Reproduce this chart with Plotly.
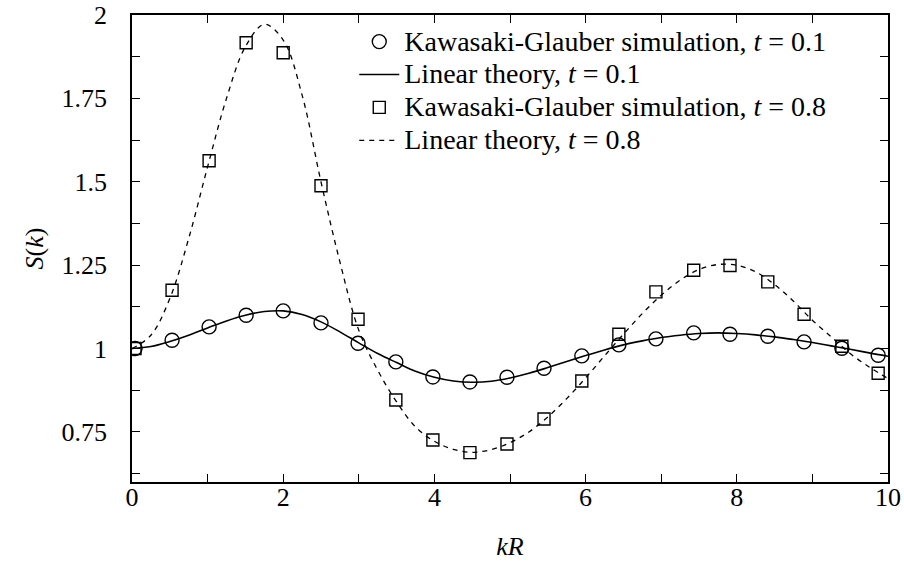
import plotly.graph_objects as go

# Simulation wavenumbers kR
kr_sim = [0.04, 0.53, 1.02, 1.51, 2.00, 2.50, 2.99, 3.49, 3.98, 4.47, 4.96,
          5.45, 5.95, 6.44, 6.93, 7.43, 7.91, 8.41, 8.89, 9.39, 9.87]
s_sim_t01 = [1.000, 1.025, 1.065, 1.100, 1.113, 1.077, 1.016, 0.960, 0.915, 0.900, 0.914,
             0.941, 0.978, 1.011, 1.029, 1.047, 1.043, 1.037, 1.020, 1.001, 0.980]
s_sim_t08 = [1.000, 1.175, 1.563, 1.917, 1.887, 1.488, 1.088, 0.846, 0.726, 0.688, 0.714,
             0.789, 0.903, 1.043, 1.170, 1.235, 1.249, 1.200, 1.103, 1.007, 0.926]

# Linear theory curves sampled along kR
kr_th = [0.0, 0.25, 0.5, 0.75, 1.0, 1.25, 1.5, 1.75, 2.0, 2.25, 2.5, 2.75, 3.0, 3.25,
         3.5, 3.75, 4.0, 4.25, 4.5, 4.75, 5.0, 5.25, 5.5, 5.75, 6.0, 6.25, 6.5, 6.75,
         7.0, 7.25, 7.5, 7.75, 8.0, 8.25, 8.5, 8.75, 9.0, 9.25, 9.5, 9.75, 10.0]
s_th_t01 = [1.000, 1.006, 1.021, 1.040, 1.062, 1.083, 1.100, 1.111, 1.113, 1.102, 1.080,
            1.050, 1.017, 0.985, 0.958, 0.932, 0.914, 0.903, 0.899, 0.902, 0.912, 0.926,
            0.943, 0.961, 0.979, 0.996, 1.011, 1.023, 1.033, 1.040, 1.045, 1.047, 1.045,
            1.041, 1.035, 1.027, 1.018, 1.008, 0.998, 0.987, 0.977]
s_th_t08 = [1.000, 1.040, 1.150, 1.330, 1.545, 1.750, 1.905, 1.972, 1.925, 1.760, 1.500,
            1.260, 1.055, 0.935, 0.840, 0.765, 0.722, 0.698, 0.689, 0.697, 0.718, 0.750,
            0.795, 0.850, 0.912, 0.978, 1.043, 1.105, 1.160, 1.205, 1.237, 1.252, 1.250,
            1.230, 1.192, 1.142, 1.085, 1.035, 0.985, 0.945, 0.910]

x_ticks = list(range(0, 11))
x_labels = ["0", "", "2", "", "4", "", "6", "", "8", "", "10"]
y_ticks = [0.625, 0.75, 0.875, 1.0, 1.125, 1.25, 1.375, 1.5, 1.625, 1.75, 1.875, 2.0]
y_labels = ["", "0.75", "", "1", "", "1.25", "", "1.5", "", "1.75", "", "2"]

FONT = "'Liberation Serif', 'Times New Roman', Times, serif"


def key_label(text):
    # legend entries use a larger face than the legend row pitch
    return '<span style="font-size:28px">' + text + "</span>"


fig = go.Figure()
fig.add_trace(go.Scatter(
    x=kr_sim, y=s_sim_t01, mode="markers",
    name=key_label("Kawasaki-Glauber simulation, <i>t</i> = 0.1"),
    marker=dict(symbol="circle-open", size=14, color="black", line=dict(width=1.4)),
))
fig.add_trace(go.Scatter(
    x=kr_th, y=s_th_t01, mode="lines",
    name=key_label("Linear theory, <i>t</i> = 0.1"),
    line=dict(color="black", width=1.6, shape="spline", smoothing=1.0),
))
fig.add_trace(go.Scatter(
    x=kr_sim, y=s_sim_t08, mode="markers",
    name=key_label("Kawasaki-Glauber simulation, <i>t</i> = 0.8"),
    marker=dict(symbol="square-open", size=12, color="black", line=dict(width=1.4)),
))
fig.add_trace(go.Scatter(
    x=kr_th, y=s_th_t08, mode="lines",
    name=key_label("Linear theory, <i>t</i> = 0.8"),
    line=dict(color="black", width=1.3, dash="5px,5px", shape="spline", smoothing=1.0),
))

axis_common = dict(
    showgrid=False, zeroline=False, showline=True, linecolor="black", linewidth=1.6,
    mirror="ticks", ticks="inside", ticklen=8, tickwidth=1.3, tickcolor="black",
    tickfont=dict(family=FONT, size=26, color="black"), automargin=False,
)

fig.update_layout(
    width=904, height=569,
    margin=dict(l=132, r=16, t=15, b=87, autoexpand=False),
    paper_bgcolor="white", plot_bgcolor="white",
    font=dict(family=FONT, size=26, color="black"),
    showlegend=True,
    legend=dict(
        x=0.294, y=0.989, xanchor="left", yanchor="top",
        bgcolor="rgba(0,0,0,0)", borderwidth=0,
        font=dict(family=FONT, size=23, color="black"),
        itemwidth=40, tracegroupgap=0,
    ),
    xaxis=dict(
        range=[0, 10], tickmode="array", tickvals=x_ticks, ticktext=x_labels,
        ticklabelstandoff=-9,
        title=dict(text="<i>kR</i>", standoff=26, font=dict(family=FONT, size=26)),
        **axis_common,
    ),
    yaxis=dict(
        range=[0.6, 2.0], tickmode="array", tickvals=y_ticks, ticktext=y_labels,
        ticklabelstandoff=18,
        title=dict(text="<i>S</i>(<i>k</i>)", standoff=10, font=dict(family=FONT, size=26)),
        **axis_common,
    ),
)

fig.write_html("out.html")
